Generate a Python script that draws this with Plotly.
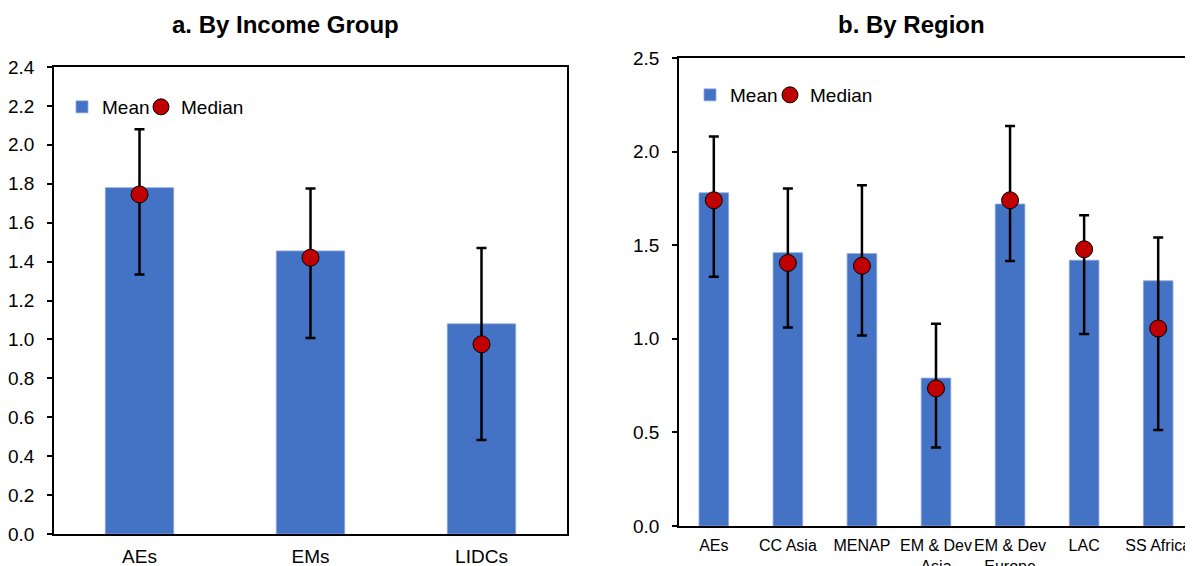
import plotly.graph_objects as go
from plotly.subplots import make_subplots

# a. By Income Group
income_groups = ["AEs", "EMs", "LIDCs"]
income_mean = [1.78, 1.455, 1.08]
income_median = [1.745, 1.42, 0.975]
income_upper = [2.08, 1.775, 1.47]
income_lower = [1.333, 1.007, 0.483]

# b. By Region
regions = ["AEs", "CC Asia", "MENAP", "EM & Dev<br>Asia", "EM & Dev<br>Europe", "LAC", "SS Africa"]
region_mean = [1.78, 1.46, 1.455, 0.79, 1.72, 1.42, 1.31]
region_median = [1.74, 1.405, 1.39, 0.735, 1.74, 1.478, 1.055]
region_upper = [2.08, 1.803, 1.82, 1.08, 2.137, 1.66, 1.541]
region_lower = [1.332, 1.06, 1.017, 0.42, 1.416, 1.026, 0.513]

BLUE = "#4472C4"
RED = "#C00000"
FONT = "Liberation Sans, Arial, sans-serif"

# the page body keeps its default 8px margin, so the figure is made
# 8px smaller and positions below are given in window pixels
OFF = 8
W, H = 1193 - OFF, 566 - OFF


def px_x(sx):
    return (sx - OFF) / W


def px_y(sy):
    return 1 - (sy - OFF) / H


def add_panel(fig, col, cats, mean, median, upper, lower, leg_mean, leg_median):
    fig.add_trace(go.Bar(
        x=cats, y=mean, name="Mean", width=0.4,
        marker=dict(color=BLUE, line=dict(color="#8FAADC", width=0.8)),
        legend=leg_mean), row=1, col=col)
    # whiskers drawn around the median
    fig.add_trace(go.Scatter(
        x=cats, y=median, mode="markers", showlegend=False,
        marker=dict(size=1, color="rgba(0,0,0,0)"),
        error_y=dict(type="data", symmetric=False,
                     array=[u - m for u, m in zip(upper, median)],
                     arrayminus=[m - l for m, l in zip(median, lower)],
                     color="black", thickness=2.5, width=5),
        hoverinfo="skip"), row=1, col=col)
    fig.add_trace(go.Scatter(
        x=cats, y=median, mode="markers", name="Median",
        marker=dict(size=17, color=RED, line=dict(color="black", width=1)),
        legend=leg_median), row=1, col=col)


fig = make_subplots(rows=1, cols=2)
add_panel(fig, 1, income_groups, income_mean, income_median, income_upper, income_lower,
          "legend", "legend3")
add_panel(fig, 2, regions, region_mean, region_median, region_upper, region_lower,
          "legend2", "legend4")

axis_common = dict(showline=True, linecolor="black", linewidth=1.5, showgrid=False,
                   zeroline=False, automargin=False, tickfont=dict(size=19, color="black"))

fig.update_xaxes(**axis_common, ticks="", ticklabelstandoff=4)
fig.update_yaxes(**axis_common, ticks="outside", ticklen=5, tickwidth=1.5,
                 tickcolor="black", tickformat=".1f", ticklabelstandoff=9)

fig.update_xaxes(domain=[px_x(54), px_x(567)], mirror=True, range=[-0.5, 2.5], row=1, col=1)
fig.update_yaxes(domain=[px_y(534), px_y(67)], mirror=True, range=[0, 2.4], dtick=0.2, row=1, col=1)
fig.update_xaxes(domain=[px_x(679), 1.0], mirror=True, range=[-0.47, 6.47],
                 tickfont=dict(size=16, color="black"), row=1, col=2)
fig.update_yaxes(domain=[px_y(526), px_y(58)], mirror=False, range=[0, 2.5], dtick=0.5, row=1, col=2)

for text, sx in [("<b>a. By Income Group</b>", 285), ("<b>b. By Region</b>", 911)]:
    fig.add_annotation(text=text, x=px_x(sx), y=px_y(24), xref="paper", yref="paper",
                       xanchor="center", yanchor="middle", showarrow=False,
                       font=dict(size=24, color="black"))

legend_common = dict(orientation="h", yanchor="middle", xanchor="left",
                     font=dict(size=19, color="black"), bgcolor="rgba(0,0,0,0)",
                     itemwidth=30, tracegroupgap=0)
fig.update_layout(
    width=W, height=H,
    margin=dict(l=0, r=0, t=0, b=0),
    paper_bgcolor="white", plot_bgcolor="white",
    font=dict(family=FONT, color="black"),
    bargap=0.6,
    legend=dict(x=px_x(62), y=px_y(107), **legend_common),
    legend3=dict(x=px_x(141), y=px_y(107), **legend_common),
    legend2=dict(x=px_x(690), y=px_y(95), **legend_common),
    legend4=dict(x=px_x(770), y=px_y(95), **legend_common),
)

fig.write_html("out.html")
